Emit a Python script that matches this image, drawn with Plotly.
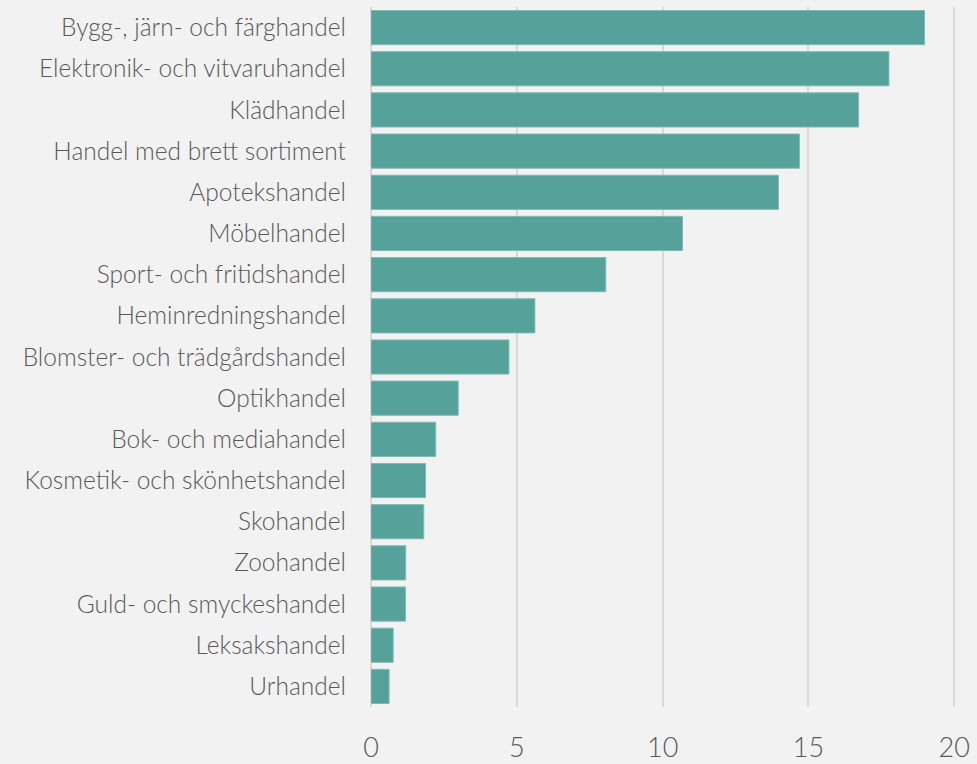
import plotly.graph_objects as go

categories = [
    "Bygg-, järn- och färghandel",
    "Elektronik- och vitvaruhandel",
    "Klädhandel",
    "Handel med brett sortiment",
    "Apotekshandel",
    "Möbelhandel",
    "Sport- och fritidshandel",
    "Heminredningshandel",
    "Blomster- och trädgårdshandel",
    "Optikhandel",
    "Bok- och mediahandel",
    "Kosmetik- och skönhetshandel",
    "Skohandel",
    "Zoohandel",
    "Guld- och smyckeshandel",
    "Leksakshandel",
    "Urhandel",
]
values = [18.98, 17.76, 16.72, 14.69, 13.97, 10.68, 8.05, 5.62, 4.73,
          2.99, 2.22, 1.87, 1.81, 1.19, 1.18, 0.76, 0.62]
x_ticks = [0, 5, 10, 15, 20]

fig = go.Figure(go.Bar(
    x=values, y=categories, orientation="h",
    marker=dict(color="#56a19a", line=dict(color="#7fbab4", width=1)),
))

fig.update_layout(
    width=977, height=764,
    paper_bgcolor="#f2f2f2", plot_bgcolor="#f2f2f2",
    margin=dict(l=371, r=21, t=7, b=57),
    bargap=0.17,
    showlegend=False,
    font=dict(family="Lato", color="#595959"),
)
fig.update_xaxes(
    range=[0, 20.06], tickvals=x_ticks, showgrid=True, gridcolor="#d9d9d9", gridwidth=2,
    zeroline=True, zerolinecolor="#d9d9d9", zerolinewidth=2,
    tickfont=dict(size=27, family="Lato", weight=300, color="#595959"),
    ticklabelstandoff=22, showline=False, automargin=False,
    ticklabeloverflow="allow",
)
fig.update_yaxes(
    categoryorder="array", categoryarray=categories[::-1],
    tickfont=dict(size=24.5, family="Lato", weight=300, color="#595959"),
    ticklabelstandoff=24, showgrid=False, automargin=False,
)

fig.write_html("out.html", config={"displayModeBar": False},
               post_script="document.body.style.margin='0';")
